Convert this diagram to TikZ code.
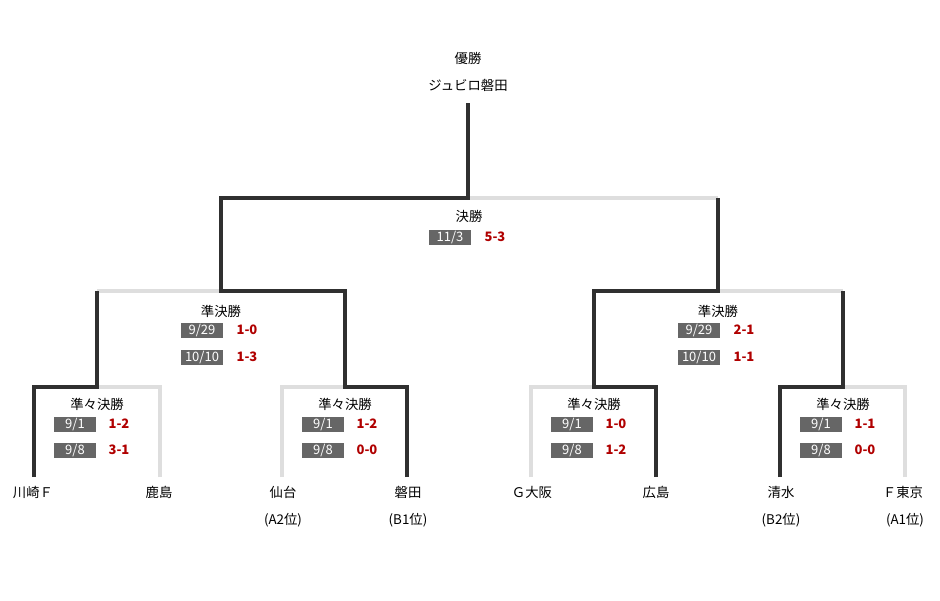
\documentclass[tikz,border=0pt]{standalone}
\usepackage{fontspec}
\setmainfont{Noto Sans CJK JP}
\usetikzlibrary{positioning}
\definecolor{scorered}{RGB}{176,0,0}
\definecolor{datebg}{RGB}{102,102,102}
\definecolor{winline}{RGB}{48,48,48}
\definecolor{loseline}{RGB}{222,222,222}
\begin{document}
\begin{tikzpicture}[
    x=0.02cm, y=-0.02cm,
    every node/.style={
        inner sep=0,
        font=\fontsize{7.6}{9}\selectfont
    },
    datebox/.style={
        fill=datebg,
        text=white,
        minimum width=0.84cm,
        minimum height=0.3cm,
        font=\fontsize{7.4}{8}\selectfont
    },
    score/.style={text=scorered, font=\fontsize{7.4}{8}\selectfont\bfseries},
    winpath/.style={draw=winline, line width=2.3pt, line join=miter},
    losepath/.style={draw=loseline, line width=2.3pt, line join=miter}
]
\useasboundingbox (0,0) rectangle (940,600);

% Bracket points
\coordinate (top) at (468,103);
\coordinate (f) at (468,198);
\coordinate (fL) at (221,198);
\coordinate (fR) at (718,198);
\coordinate (s1) at (221,291);
\coordinate (s1L) at (97,291);
\coordinate (s1R) at (345,291);
\coordinate (s2) at (718,291);
\coordinate (s2L) at (594,291);
\coordinate (s2R) at (843,291);
\coordinate (q1) at (97,387);
\coordinate (q1L) at (34,387);
\coordinate (q1R) at (160,387);
\coordinate (q2) at (345,387);
\coordinate (q2L) at (282,387);
\coordinate (q2R) at (407,387);
\coordinate (q3) at (594,387);
\coordinate (q3L) at (531,387);
\coordinate (q3R) at (656,387);
\coordinate (q4) at (843,387);
\coordinate (q4L) at (780,387);
\coordinate (q4R) at (905,387);
\coordinate (t1) at (34,477);
\coordinate (t2) at (160,477);
\coordinate (t3) at (282,477);
\coordinate (t4) at (407,477);
\coordinate (t5) at (531,477);
\coordinate (t6) at (656,477);
\coordinate (t7) at (780,477);
\coordinate (t8) at (905,477);

% Losing lines
\draw[losepath] (t2)--(q1R)--(q1);
\draw[losepath] (t3)--(q2L)--(q2);
\draw[losepath] (t5)--(q3L)--(q3);
\draw[losepath] (t8)--(q4R)--(q4);
\draw[losepath] (s1L)--(s1);
\draw[losepath] (s2R)--(s2);
\draw[losepath] (fR)--(f);

% Winning lines
\draw[winpath] (t1)--(q1L)--(q1)--(s1L);
\draw[winpath] (t4)--(q2R)--(q2)--(s1R)--(s1)--(fL)--(f)--(top);
\draw[winpath] (t6)--(q3R)--(q3)--(s2L)--(s2)--(fR);
\draw[winpath] (t7)--(q4L)--(q4)--(s2R);

% Champion
\node (yusho) at (468,58) {優勝};
\node (champ) at (468,85) {ジュビロ磐田};

% Final
\node (fname) at (469,216) {決勝};
\node[datebox] (fdate) at (450,237) {11/3};
\node[score] (fscore) at (495,237) {5-3};

% Semifinals
\node (s1name) at (221,311) {準決勝};
\node[datebox] (s1dateA) at (202,330) {9/29};
\node[score] (s1scoreA) at (247,330) {1-0};
\node[datebox] (s1dateB) at (202,357) {10/10};
\node[score] (s1scoreB) at (247,357) {1-3};

\node (s2name) at (718,311) {準決勝};
\node[datebox] (s2dateA) at (699,330) {9/29};
\node[score] (s2scoreA) at (744,330) {2-1};
\node[datebox] (s2dateB) at (699,357) {10/10};
\node[score] (s2scoreB) at (744,357) {1-1};

% Quarterfinals
\foreach \c/\n/\sa/\sb in {97/q1/1-2/3-1, 345/q2/1-2/0-0, 594/q3/1-0/1-2, 843/q4/1-1/0-0} {
    \node (\n name) at (\c,404) {準々決勝};
    \node[datebox] (\n dateA) at (\c-22,424) {9/1};
    \node[score] (\n scoreA) at (\c+22,424) {\sa};
    \node[datebox] (\n dateB) at (\c-22,450) {9/8};
    \node[score] (\n scoreB) at (\c+22,450) {\sb};
}

% Teams
\node (kawasaki) at (33,492) {川崎Ｆ};
\node (kashima) at (159,492) {鹿島};
\node (sendai) at (283,492) {仙台};
\node (iwata) at (408,492) {磐田};
\node (gosaka) at (532,492) {Ｇ大阪};
\node (hiroshima) at (656,492) {広島};
\node (shimizu) at (781,492) {清水};
\node (ftokyo) at (903,492) {Ｆ東京};

\node (sendaiRank) at (283,520) {(A2位)};
\node (iwataRank) at (408,520) {(B1位)};
\node (shimizuRank) at (781,520) {(B2位)};
\node (ftokyoRank) at (905,520) {(A1位)};

\end{tikzpicture}
\end{document}
